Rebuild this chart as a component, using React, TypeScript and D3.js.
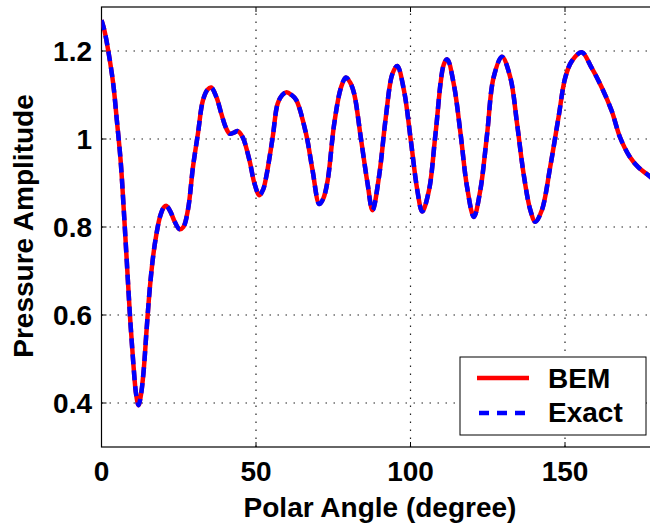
import React from 'react';
import * as d3 from 'd3';

// readings taken off the reference plot
const angles = [
  0, 1, 2.2, 3.8, 5, 6.2, 7.2, 8.2, 9.2, 10.3, 11.2, 12, 12.8, 13.6, 14.6, 15.6, 16.7, 17.8, 19, 20.2,
  21, 22.3, 23.7, 25.3, 26.5, 28, 29.6, 31.2, 32.8, 34.3, 35.5, 37.2, 38.8, 40.3, 41.5, 43, 44.1, 45.7,
  47.9, 49.5, 51.1, 52.3, 53.3, 55.4, 57, 58.5, 59.9, 61.5, 63, 66.2, 68.3, 70.5, 71.8, 73.2, 75.3, 77.5,
  79.1, 80.5, 81.8, 83.9, 86.1, 87.7, 89.8, 92, 94.1, 95.7, 97.9, 100.1, 102.2, 103.8, 106, 108.1, 110.8,
  111.9, 114, 116.2, 118.3, 120.5, 122.6, 124.8, 126.9, 129.6, 132.3, 134.5, 136.6, 138.8, 140.4, 142.5,
  145.2, 147.9, 150.1, 152.2, 155.4, 158.6, 161.9, 165.1, 167.8, 171, 173.7, 176.9, 180,
];

const bemAmplitude = [
  1.27, 1.245, 1.2, 1.125, 1.04, 0.95, 0.84, 0.72, 0.6, 0.49, 0.42, 0.395, 0.42, 0.47, 0.567, 0.658, 0.733, 0.785, 0.825, 0.845,
  0.848, 0.835, 0.812, 0.795, 0.8, 0.84, 0.936, 1.012, 1.087, 1.112, 1.117, 1.095, 1.057, 1.025, 1.012, 1.015, 1.018, 1.004,
  0.951, 0.899, 0.872, 0.885, 0.914, 1.004, 1.08, 1.1, 1.106, 1.1, 1.089, 1.012, 0.929, 0.852, 0.865, 0.906, 1.034, 1.117,
  1.14, 1.128, 1.102, 1.004, 0.899, 0.838, 0.914, 1.049, 1.147, 1.166, 1.11, 0.997, 0.884, 0.835, 0.884, 1.012, 1.17,
  1.181, 1.125, 1.012, 0.891, 0.823, 0.884, 1.012, 1.14, 1.187, 1.14, 1.034, 0.921, 0.838, 0.812, 0.838,
  0.936, 1.049, 1.14, 1.177, 1.197, 1.162, 1.117, 1.064, 1.004, 0.959, 0.936, 0.918, 0.9,
];

// the exact solution sits on top of the BEM curve
const exactAmplitude = bemAmplitude.slice();

const xTicks = [0, 50, 100, 150];
const yTicks = [0.4, 0.6, 0.8, 1, 1.2];
const legendLabels = ['BEM', 'Exact'];

const W = 650;
const H = 531;
const FONT = '"Liberation Sans", Arial, Helvetica, sans-serif';

export default function App() {
  const x = d3.scaleLinear().domain([0, 180]).range([101.5, 101.5 + 180 * 3.09]);
  const y = d3.scaleLinear().domain([0.3, 1.3]).range([447, 7]);

  const line = (vals: number[]) =>
    d3.line<number>()
      .x((_, i) => x(angles[i]))
      .y(d => y(d))
      .curve(d3.curveCatmullRom.alpha(0.5))(vals) || '';

  const [x0, x1] = x.range();
  const [yb, yt] = y.range();

  return (
    <div style={{ position: 'absolute', left: 0, top: 0 }}>
      <svg width={W} height={H} style={{ display: 'block', background: '#fff' }} fontFamily={FONT}>
        <defs>
          <clipPath id="plot">
            <rect x={x0} y={yt} width={x1 - x0} height={yb - yt} />
          </clipPath>
        </defs>

        {/* grid */}
        {xTicks.filter(t => t !== 0).map(t => (
          <line key={'gx' + t} x1={x(t)} x2={x(t)} y1={yb} y2={yt}
            stroke="#222" strokeWidth={1.2} strokeDasharray="1.5,6.5" />
        ))}
        {yTicks.map(t => (
          <line key={'gy' + t} x1={x0} x2={x1} y1={y(t)} y2={y(t)}
            stroke="#222" strokeWidth={1.2} strokeDasharray="1.5,6.5" />
        ))}

        {/* axes box */}
        <rect x={x0} y={yt} width={x1 - x0} height={yb - yt} fill="none" stroke="#000" strokeWidth={1.2} />

        {/* ticks */}
        {xTicks.map(t => (
          <g key={'tx' + t}>
            <line x1={x(t)} x2={x(t)} y1={yb} y2={yb - 5} stroke="#000" />
            <line x1={x(t)} x2={x(t)} y1={yt} y2={yt + 5} stroke="#000" />
            <text x={x(t)} y={481} textAnchor="middle" fontSize={28} fontWeight="bold">{t}</text>
          </g>
        ))}
        {yTicks.map(t => (
          <g key={'ty' + t}>
            <line x1={x0} x2={x0 + 5} y1={y(t)} y2={y(t)} stroke="#000" />
            <text x={92} y={y(t) + 10} textAnchor="end" fontSize={28} fontWeight="bold">{t}</text>
          </g>
        ))}

        {/* curves */}
        <g clipPath="url(#plot)">
          <path d={line(bemAmplitude)} fill="none" stroke="#ff0000" strokeWidth={4.5} />
          <path d={line(exactAmplitude)} fill="none" stroke="#0000ff" strokeWidth={4.5} strokeDasharray="10,6" />
        </g>

        {/* axis labels */}
        <text x={380} y={517} textAnchor="middle" fontSize={28} fontWeight="bold">Polar Angle (degree)</text>
        <text transform="translate(33,226) rotate(-90)" textAnchor="middle" fontSize={28} fontWeight="bold">Pressure Amplitude</text>

        {/* legend */}
        <rect x={460} y={357} width={186} height={78} fill="#fff" stroke="#000" strokeWidth={1} />
        <line x1={477} x2={529} y1={378} y2={378} stroke="#ff0000" strokeWidth={4.5} />
        <line x1={479} x2={529} y1={413} y2={413} stroke="#0000ff" strokeWidth={4.5} strokeDasharray="10,8" />
        <text x={548} y={388} fontSize={28} fontWeight="bold">{legendLabels[0]}</text>
        <text x={548} y={422} fontSize={28} fontWeight="bold">{legendLabels[1]}</text>
      </svg>
    </div>
  );
}
